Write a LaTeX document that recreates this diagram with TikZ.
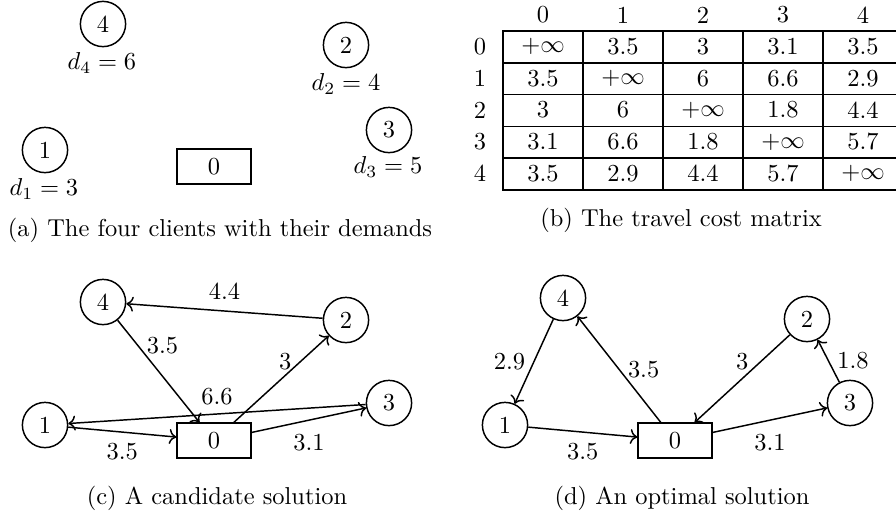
\documentclass[tikz,border=0pt]{standalone}
\usepackage{xcolor}
\usetikzlibrary{arrows.meta, positioning, calc}

\begin{document}
\begin{tikzpicture}[x=0.409pt, y=-0.409pt,
    client/.style={circle, draw, semithick, minimum size=18.5pt, inner sep=0pt},
    depot/.style={rectangle, draw, thick, minimum width=30pt, minimum height=14pt, inner sep=0pt},
    route/.style={->, semithick}]

    \useasboundingbox (0,0) rectangle (896,514);

    % (a) clients with demands
    \node[client] (a4) at (103,24) {4};
    \node (d4) at (102,63) {$d_4 = 6$};
    \node[client] (a2) at (346,45) {2};
    \node (d2) at (346,84) {$d_2 = 4$};
    \node[client] (a3) at (389,130) {3};
    \node (d3) at (388,167) {$d_3 = 5$};
    \node[client] (a1) at (45,150) {1};
    \node (d1) at (44,189) {$d_1 = 3$};
    \node[depot] (a0) at (214,166.5) {0};
    \node (capa) at (220,230) {(a) The four clients with their demands};

    % (b) cost matrix
    \foreach \j in {0,...,4}
        \node (h\j) at (543+80*\j,15) {\j};
    \foreach \row [count=\i from 0] in {{$+\infty$,3.5,3,3.1,3.5},{3.5,$+\infty$,6,6.6,2.9},
        {3,6,$+\infty$,1.8,4.4},{3.1,6.6,1.8,$+\infty$,5.7},{3.5,2.9,4.4,5.7,$+\infty$}} {
        \node (r\i) at (480,46.5+31.8*\i) {\i};
        \foreach \v [count=\j from 0] in \row
            \node (t\i\j) at (543+80*\j,46.5+31.8*\i) {\v};
    }
    \draw[semithick] (503,31) rectangle (903,190);
    \foreach \j in {1,...,4}
        \draw[semithick] (503+80*\j,31) -- (503+80*\j,190);
    \foreach \i in {1,...,4}
        \draw[semithick] (503,31+31.8*\i) -- (903,31+31.8*\i);
    \node (capb) at (681,220) {(b) The travel cost matrix};

    % (c) candidate solution
    \node[client] (c4) at (103,302) {4};
    \node[client] (c2) at (346,320) {2};
    \node[client] (c3) at (389,403) {3};
    \node[client] (c1) at (45,425) {1};
    \node[depot] (c0) at (214,440.5) {0};
    \draw[route] (c2) -- node[above=1pt] {4.4} (c4);
    \draw[route] (c4) -- node[pos=0.25, right] {3.5} (c0);
    \draw[route] (c0) -- node[pos=0.7, left] {3} (c2);
    \draw[route] (c3) -- node[above] {6.6} (c1);
    \draw[route] (c1) -- node[below=1pt] {3.5} (c0);
    \draw[route] (c0) -- node[below=2pt] {3.1} (c3);
    \node (capc) at (217,498) {(c) A candidate solution};

    % (d) optimal solution
    \node[client] (o4) at (563,298) {4};
    \node[client] (o2) at (807,319) {2};
    \node[client] (o3) at (850,403) {3};
    \node[client] (o1) at (505,425) {1};
    \node[depot] (o0) at (675,440.5) {0};
    \draw[route] (o4) -- node[left] {2.9} (o1);
    \draw[route] (o0) -- node[right] {3.5} (o4);
    \draw[route] (o2) -- node[above] {3} (o0);
    \draw[route] (o3) -- node[right] {1.8} (o2);
    \draw[route] (o1) -- node[below=1pt] {3.5} (o0);
    \draw[route] (o0) -- node[below=2pt] {3.1} (o3);
    \node (capd) at (682,498) {(d) An optimal solution};
\end{tikzpicture}
\end{document}
